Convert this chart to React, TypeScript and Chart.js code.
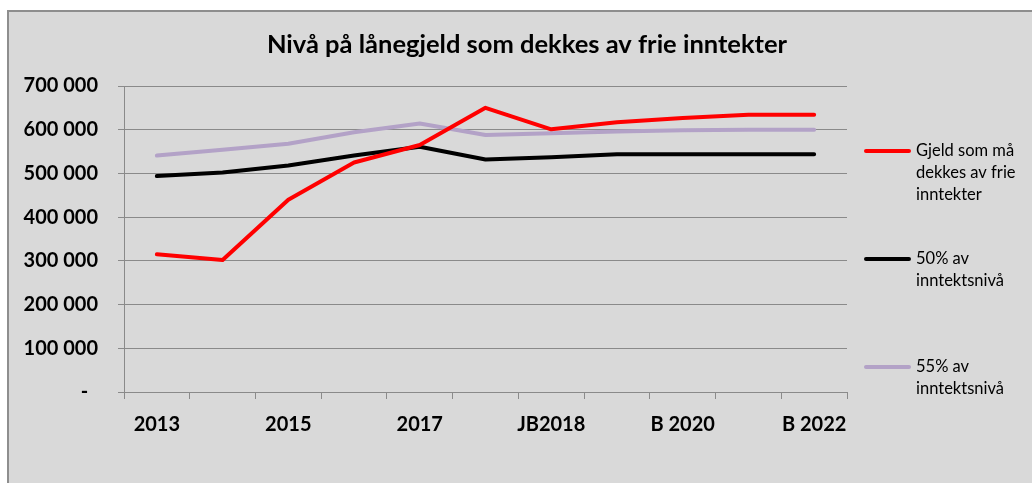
import { useEffect, useRef } from 'react';
import { Chart, registerables } from 'chart.js';

Chart.register(...registerables);

const TITLE = 'Nivå på lånegjeld som dekkes av frie inntekter';
const categories = ['2013', '2014', '2015', '2016', '2017', 'B 2018', 'JB2018', 'B 2019', 'B 2020', 'B 2021', 'B 2022'];
const gjeld = [315000, 302000, 440000, 525000, 565000, 650000, 601000, 617000, 627000, 634000, 634000];
const inntekt50 = [494000, 502000, 518000, 541000, 561000, 532000, 537000, 544000, 544000, 544000, 544000];
const inntekt55 = [541000, 554000, 568000, 594000, 614000, 588000, 592000, 596000, 599000, 600000, 600000];
const seriesNames = ['Gjeld som må dekkes av frie inntekter', '50% av inntektsnivå', '55% av inntektsnivå'];
const seriesColors = ['#FF0000', '#000000', '#B3A2C7'];
const Y_MIN = 0;
const Y_MAX = 700000;
const Y_STEP = 100000;

const FONT = 'Lato, "Open Sans", sans-serif';
const GRID = '#8A8A8A';

function fmt(v: number): string {
  if (v === 0) return '-  ';
  return String(v).replace(/\B(?=(\d{3})+(?!\d))/g, ' ');
}

function wrap(ctx: CanvasRenderingContext2D, text: string, maxW: number): string[] {
  const words = text.split(' ');
  const lines: string[] = [];
  let cur = '';
  for (const w of words) {
    const t = cur ? cur + ' ' + w : w;
    if (ctx.measureText(t).width > maxW && cur) {
      lines.push(cur);
      cur = w;
    } else {
      cur = t;
    }
  }
  if (cur) lines.push(cur);
  return lines;
}

const framePlugin = {
  id: 'frame',
  beforeDraw(chart: any) {
    const { ctx, width, height } = chart;
    ctx.save();
    ctx.fillStyle = '#FFFFFF';
    ctx.fillRect(0, 0, width, height);
    ctx.fillStyle = '#D9D9D9';
    ctx.fillRect(7, 10, width - 7, height - 10);
    ctx.fillStyle = '#8E8E8E';
    ctx.fillRect(7, 10, width - 7, 2);
    ctx.fillRect(7, 10, 2, height - 10);
    ctx.fillStyle = '#000000';
    ctx.font = `bold 25.5px ${FONT}`;
    ctx.textAlign = 'center';
    ctx.textBaseline = 'alphabetic';
    ctx.fillText(TITLE, 527, 53);
    ctx.restore();
  },
  afterDraw(chart: any) {
    const { ctx } = chart;
    ctx.save();
    ctx.font = `16.5px ${FONT}`;
    ctx.textAlign = 'left';
    ctx.textBaseline = 'middle';
    chart.data.datasets.forEach((ds: any, i: number) => {
      const y0 = 151 + i * 108;
      ctx.strokeStyle = ds.borderColor;
      ctx.lineWidth = 4;
      ctx.lineCap = 'round';
      ctx.beginPath();
      ctx.moveTo(866, y0);
      ctx.lineTo(909, y0);
      ctx.stroke();
      ctx.fillStyle = '#000000';
      const lines = wrap(ctx, ds.label, 110);
      lines.forEach((ln, j) => ctx.fillText(ln, 916, y0 + j * 22));
    });
    ctx.restore();
  },
};

export default function App() {
  const ref = useRef<HTMLCanvasElement | null>(null);
  useEffect(() => {
    if (!ref.current) return;
    const series = [gjeld, inntekt50, inntekt55];
    const chart = new Chart(ref.current, {
      type: 'line',
      data: {
        labels: categories,
        datasets: series.map((d, i) => ({
          label: seriesNames[i],
          data: d,
          borderColor: seriesColors[i],
          backgroundColor: seriesColors[i],
          borderWidth: 4,
          pointRadius: 0,
          pointHoverRadius: 0,
          tension: 0,
          borderCapStyle: 'round' as const,
          borderJoinStyle: 'round' as const,
          fill: false,
        })),
      },
      options: {
        responsive: false,
        animation: false,
        layout: { padding: { top: 86, right: 185, left: 0, bottom: 0 } },
        plugins: {
          legend: { display: false },
          title: { display: false },
          tooltip: { enabled: false },
        },
        scales: {
          x: {
            type: 'category',
            offset: true,
            grid: {
              display: true,
              drawOnChartArea: false,
              drawTicks: true,
              tickLength: 7,
              offset: true,
              color: GRID,
              lineWidth: 1,
            },
            border: { display: true, color: GRID, width: 1 },
            ticks: {
              autoSkip: false,
              maxRotation: 0,
              minRotation: 0,
              padding: 14,
              color: '#000000',
              font: { family: FONT, size: 20, weight: 'bold' },
              callback: (_v: any, idx: number) => (idx % 2 === 0 ? categories[idx] : ''),
            },
            afterFit: (s: any) => {
              s.height = 91;
            },
          },
          y: {
            min: Y_MIN,
            max: Y_MAX,
            grid: {
              display: true,
              drawTicks: true,
              tickLength: 6,
              color: GRID,
              lineWidth: 1,
            },
            border: { display: true, color: GRID, width: 1 },
            ticks: {
              stepSize: Y_STEP,
              padding: 20,
              color: '#000000',
              font: { family: FONT, size: 20, weight: 'bold' },
              callback: (v: any) => fmt(Number(v)),
            },
            afterFit: (s: any) => {
              s.width = 124;
            },
          },
        },
      },
      plugins: [framePlugin],
    });
    return () => chart.destroy();
  }, []);
  return (
    <div style={{ position: 'fixed', left: 0, top: 0, width: 1032, height: 483 }}>
      <canvas ref={ref} width={1032} height={483} style={{ display: 'block' }} />
    </div>
  );
}
